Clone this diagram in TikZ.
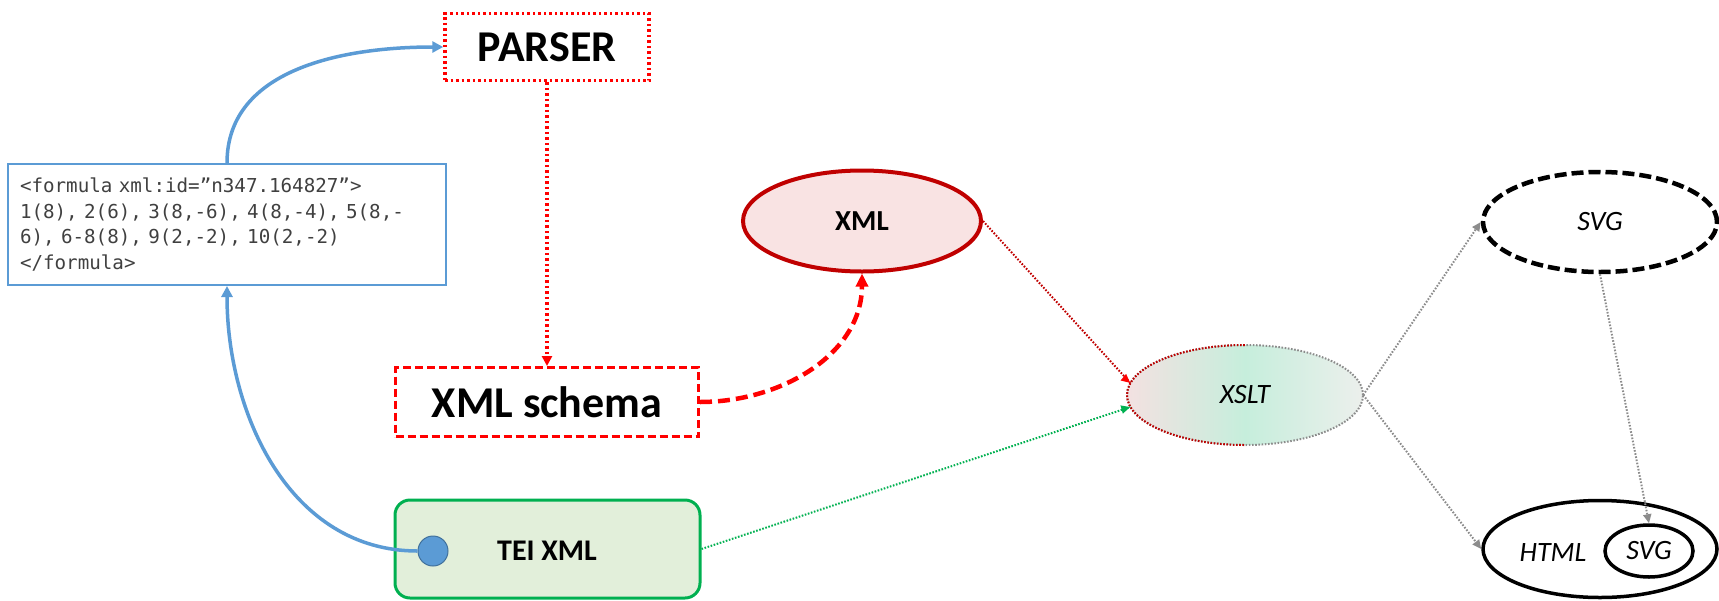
\documentclass[tikz,border=0pt]{standalone}
\usepackage{fontspec}
\setmainfont{Carlito}
\newfontfamily\codefont{DejaVu Sans Mono}[WordSpace={1,0,0}]
\usetikzlibrary{shapes.geometric,arrows.meta}
\definecolor{blueL}{HTML}{5B9BD5}
\definecolor{blueD}{HTML}{41719C}
\definecolor{redB}{HTML}{FF0000}
\definecolor{xmlB}{HTML}{C00000}
\definecolor{xmlF}{HTML}{F9E3E3}
\definecolor{greenB}{HTML}{00B050}
\definecolor{teiF}{HTML}{E2EFDA}
\definecolor{grayA}{HTML}{8C8C8C}
\definecolor{codeT}{HTML}{404040}
\definecolor{xsltL}{HTML}{F3E1E1}
\definecolor{xsltM}{HTML}{C6EEDC}
\definecolor{xsltR}{HTML}{ECEFEC}
\begin{document}
\begin{tikzpicture}[x=1pt,y=-1pt,
  bigtext/.style={font=\fontsize{44}{44}\selectfont\bfseries},
  parserbox/.style={draw=redB, line width=3.5pt, dash pattern=on 2.5pt off 3pt,
    minimum width=204pt, minimum height=67pt, inner sep=0pt, bigtext},
  schemabox/.style={draw=redB, line width=3pt, dash pattern=on 8pt off 4pt,
    minimum width=303pt, minimum height=69pt, inner sep=0pt, bigtext},
  teibox/.style={draw=greenB, fill=teiF, line width=3pt, rounded corners=15pt,
    minimum width=305pt, minimum height=98pt, inner sep=0pt},
  codebox/.style={draw=blueL, line width=2pt, minimum width=438pt, minimum height=121pt,
    text width=414pt, align=left, inner xsep=12pt, inner ysep=0pt, text=codeT,
    font=\codefont\fontsize{19.2}{25.5}\selectfont},
  ell/.style={ellipse, inner sep=0pt},
  ltext/.style={font=\fontsize{28}{28}\selectfont\itshape},
  blueline/.style={draw=blueL, line width=3.5pt, -{Triangle[length=11pt,width=11pt]}},
  redvert/.style={draw=redB, line width=3.5pt, dash pattern=on 2.5pt off 3pt,
    -{Triangle[length=10pt,width=10pt]}},
  reddash/.style={draw=redB, line width=4.5pt, dash pattern=on 12pt off 6pt,
    -{Triangle[length=13pt,width=12pt]}},
  thindot/.style={line width=2pt, dash pattern=on 1.6pt off 1.6pt},
  thintip/.style={-{Triangle[length=9pt,width=8pt]}}
]
\useasboundingbox (0,0) rectangle (1719,600);

% boxes
\node[parserbox] (parser) at (547,47) {PARSER};
\node[codebox] (code) at (227,224.5) {<formula xml:id=”n347.164827”>\\1(8), 2(6), 3(8,-6), 4(8,-4), 5(8,-\\6), 6-8(8), 9(2,-2), 10(2,-2)\\</formula>};
\node[schemabox] (schema) at (547,402) {XML schema};
\node[teibox] (tei) at (547.5,549) {};
\node[font=\fontsize{30}{30}\selectfont\bfseries] (teilabel) at (547,551) {TEI XML};
\node[circle, fill=blueL, draw=blueD, line width=1pt, minimum size=30pt, inner sep=0pt] (dot) at (433,551) {};

% ellipses
\node[ell, draw=xmlB, fill=xmlF, line width=4pt, minimum width=238pt, minimum height=101pt,
  font=\fontsize{29}{29}\selectfont\bfseries] (xml) at (862,221) {XML};
\node[ell, left color=xsltL, right color=xsltR, middle color=xsltM,
  minimum width=236pt, minimum height=100pt, ltext] (xslt) at (1245,395) {XSLT};
\draw[grayA, thindot] (xslt.center) ellipse [x radius=118pt, y radius=50pt];
\begin{scope}
  \clip (1100,330) rectangle (1245,460);
  \draw[xmlB, thindot] (xslt.center) ellipse [x radius=118pt, y radius=50pt];
\end{scope}
\node[ell, draw=black, line width=4.5pt, dash pattern=on 12pt off 5pt,
  minimum width=234pt, minimum height=100pt, ltext] (svgtop) at (1600,222) {SVG};
\node[ell, draw=black, line width=3.5pt, minimum width=234pt, minimum height=97pt] (html) at (1600,549) {};
\node[ltext] (htmllabel) at (1553,553) {HTML};
\node[ell, draw=black, line width=3.5pt, minimum width=88pt, minimum height=52pt, ltext] (innersvg) at (1649,551) {SVG};

% connectors
\draw[blueline] (code.north) to[out=90,in=180] (parser.west);
\draw[blueline] (dot.west) to[out=180,in=-90] (code.south);
\draw[redvert] (parser.south) -- (schema.north);
\draw[reddash] (schema.east) to[out=0,in=-90] (xml.south);
\draw[xmlB, thindot] (xml.east) -- (xslt.174);
\draw[thintip, redB, line width=2pt] ([shift={(-6,-5)}]xslt.174) -- (xslt.174);
\draw[greenB, thindot] (tei.east) -- (xslt.186);
\draw[thintip, greenB, line width=2pt] ([shift={(-7,2)}]xslt.186) -- (xslt.186);
\draw[grayA, thindot, thintip] (xslt.east) -- (svgtop.west);
\draw[grayA, thindot, thintip] (xslt.east) -- (html.west);
\draw[grayA, thindot, thintip] (svgtop.south) -- (innersvg.north);
\end{tikzpicture}
\end{document}
